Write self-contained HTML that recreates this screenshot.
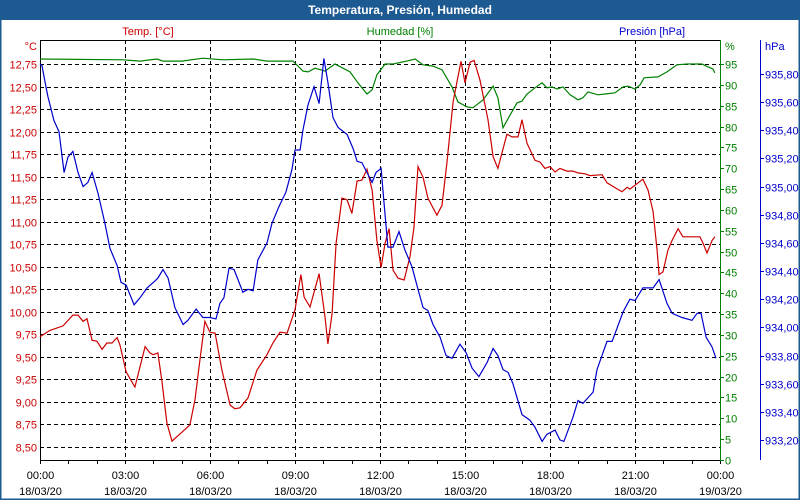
<!DOCTYPE html>
<html><head><meta charset="utf-8"><style>
body{margin:0;background:#fff;}
#wrap{position:relative;width:800px;height:500px;overflow:hidden;font-family:"Liberation Sans",sans-serif;}
</style></head><body>
<div id="wrap">
<svg id="chart" width="800" height="500" xmlns="http://www.w3.org/2000/svg" font-family="Liberation Sans, sans-serif" font-size="11">
<rect x="0" y="0" width="800" height="500" fill="#ffffff" stroke="#1e5a92" stroke-width="3"/>
<rect x="0" y="0" width="800" height="20" fill="#1e5a92"/>
<text x="400" y="14" text-anchor="middle" fill="#fff" font-weight="bold" font-size="12">Temperatura, Presión, Humedad</text>
<g id="grid"></g>
<g id="axes"></g>
<g id="series"></g>
</svg>
</div>
<script>
const tempTimes=[0,0.35,0.81,1.16,1.34,1.52,1.66,1.84,2.01,2.19,2.36,2.54,2.72,2.82,3.04,3.35,3.71,3.88,3.99,4.16,4.31,4.48,4.66,4.94,5.29,5.47,5.61,5.82,6.00,6.18,6.42,6.71,6.88,7.06,7.34,7.66,8.01,8.22,8.47,8.72,9.00,9.21,9.32,9.53,9.85,10.06,10.16,10.31,10.45,10.66,10.84,11.01,11.19,11.36,11.54,11.72,11.89,12.04,12.18,12.32,12.46,12.64,12.85,13.06,13.20,13.34,13.52,13.69,14.01,14.19,14.36,14.58,14.86,15.00,15.18,15.32,15.53,15.81,15.99,16.16,16.48,16.66,16.87,17.01,17.19,17.47,17.65,17.82,18.00,18.18,18.35,18.60,18.81,18.99,19.24,19.41,19.84,20.01,20.22,20.54,20.72,20.82,21.07,21.28,21.46,21.64,21.78,21.85,21.99,22.16,22.31,22.52,22.69,23.29,23.40,23.54,23.72,23.82];
const tempValues=[9.72,9.79,9.84,9.96,9.96,9.89,9.92,9.68,9.67,9.58,9.65,9.65,9.71,9.63,9.33,9.16,9.61,9.54,9.52,9.54,9.21,8.76,8.56,8.64,8.74,9.02,9.38,9.89,9.77,9.76,9.35,8.96,8.92,8.93,9.04,9.35,9.52,9.65,9.77,9.76,10.02,10.41,10.16,10.05,10.42,9.94,9.64,9.98,10.76,11.26,11.24,11.09,11.45,11.46,11.58,11.35,10.79,10.49,10.76,10.92,10.46,10.37,10.35,10.61,10.94,11.61,11.49,11.26,11.07,11.18,11.65,12.33,12.78,12.54,12.77,12.79,12.57,12.13,11.72,11.59,11.97,11.94,11.94,12.13,11.87,11.68,11.66,11.59,11.61,11.55,11.59,11.56,11.56,11.54,11.53,11.51,11.52,11.43,11.39,11.33,11.38,11.36,11.42,11.47,11.35,11.11,10.68,10.41,10.44,10.68,10.79,10.92,10.83,10.83,10.76,10.65,10.79,10.83];
const presTimes=[0,0.07,0.18,0.28,0.49,0.67,0.85,0.99,1.16,1.34,1.52,1.69,1.84,2.05,2.29,2.47,2.72,2.86,3.04,3.32,3.53,3.78,4.06,4.16,4.34,4.52,4.76,5.05,5.22,5.51,5.75,6.00,6.21,6.35,6.49,6.67,6.85,7.16,7.34,7.52,7.69,8.01,8.19,8.44,8.68,8.89,9.00,9.18,9.28,9.46,9.67,9.85,10.02,10.16,10.34,10.52,10.84,11.05,11.19,11.36,11.54,11.72,11.86,12.04,12.11,12.28,12.46,12.67,12.88,13.13,13.34,13.52,13.69,13.87,14.12,14.33,14.54,14.82,15.04,15.25,15.49,15.78,15.99,16.16,16.34,16.52,16.69,17.01,17.29,17.47,17.72,17.89,18.18,18.35,18.49,18.81,18.99,19.16,19.52,19.66,20.01,20.19,20.58,20.82,21.00,21.28,21.64,21.85,22.13,22.31,22.66,23.01,23.19,23.33,23.51,23.72,23.86];
const presValues=[935.87,935.86,935.74,935.64,935.47,935.39,935.10,935.21,935.25,935.10,935.00,935.03,935.10,934.95,934.74,934.56,934.44,934.32,934.30,934.16,934.21,934.28,934.33,934.35,934.41,934.35,934.14,934.02,934.05,934.13,934.07,934.07,934.06,934.17,934.21,934.42,934.41,934.25,934.27,934.26,934.48,934.60,934.74,934.86,934.96,935.12,935.26,935.26,935.40,935.58,935.71,935.59,935.91,935.74,935.49,935.42,935.37,935.27,935.18,935.17,935.10,935.03,935.10,935.13,934.96,934.57,934.57,934.68,934.55,934.43,934.27,934.14,934.12,934.02,933.93,933.80,933.78,933.88,933.82,933.71,933.65,933.75,933.85,933.80,933.70,933.68,933.60,933.38,933.34,933.29,933.19,933.24,933.27,933.20,933.19,933.36,933.48,933.46,933.54,933.70,933.90,933.90,934.11,934.20,934.19,934.28,934.28,934.34,934.17,934.10,934.07,934.05,934.10,934.10,933.93,933.86,933.78];
const humTimes=[0,2.93,3.53,4.13,4.34,5.01,5.75,6.46,7.52,8.01,8.93,9.28,9.46,9.71,10.06,10.41,10.94,11.22,11.54,11.72,11.89,12.18,12.46,12.95,13.24,13.52,13.87,14.19,14.54,14.75,15.07,15.28,15.64,15.99,16.16,16.34,16.59,16.84,17.01,17.19,17.47,17.72,17.89,18.07,18.25,18.46,18.71,18.99,19.16,19.34,19.69,19.94,20.29,20.58,20.75,21.00,21.18,21.32,21.81,22.13,22.48,22.84,23.36,23.58,23.75,23.82];
const humValues=[96.2,96.0,95.7,96.2,95.7,95.7,96.4,96.0,96.2,95.7,95.7,93.3,93.1,94.0,93.3,95.0,93.1,90.5,87.8,88.8,92.4,95.0,95.0,95.7,96.2,94.8,94.5,93.6,89.5,85.9,84.7,84.5,86.4,89.7,86.9,79.7,82.8,85.7,86.1,87.8,89.3,90.5,89.3,89.5,89.0,89.5,87.6,86.4,86.9,88.3,87.6,87.8,88.1,89.5,89.7,89.0,90.0,91.7,91.9,93.1,94.8,95.0,95.0,94.3,93.8,92.9];
const tempTicks=["12,75","12,50","12,25","12,00","11,75","11,50","11,25","11,00","10,75","10,50","10,25","10,00","9,75","9,50","9,25","9,00","8,75","8,50"];
const humTicks=[0,5,10,15,20,25,30,35,40,45,50,55,60,65,70,75,80,85,90,95];
const presTicks=["935,80","935,60","935,40","935,20","935,00","934,80","934,60","934,40","934,20","934,00","933,80","933,60","933,40","933,20"];
const timeLabels=["00:00","03:00","06:00","09:00","12:00","15:00","18:00","21:00","00:00"];
const dateLabels=["18/03/20","18/03/20","18/03/20","18/03/20","18/03/20","18/03/20","18/03/20","18/03/20","19/03/20"];

const L=40,R=720,T=40,B=460;
const xS=h=>L+h*(R-L)/24;
const yT=v=>64+(12.75-v)*90;
const yH=v=>460-v*396/95;
const yP=v=>74+(935.80-v)*140.75;
const NS="http://www.w3.org/2000/svg";
function mk(parent,tag,attrs,text){const e=document.createElementNS(NS,tag);for(const k in attrs)e.setAttribute(k,attrs[k]);if(text!==undefined)e.textContent=text;parent.appendChild(e);return e;}
const grid=document.getElementById('grid'),axes=document.getElementById('axes'),series=document.getElementById('series');

mk(grid,'rect',{x:L,y:T,width:R-L,height:B-T,fill:'#fff'});
tempTicks.forEach(s=>{const v=parseFloat(s.replace(',','.'));const y=Math.round(yT(v))+0.5;
 const g=mk(grid,'line',{x1:L,x2:R,y1:y,y2:y,stroke:'#000','stroke-dasharray':'4,3'});
 
 
 const t=mk(axes,'text',{x:37,y:y+4,'text-anchor':'end',fill:'#cc0000'},s);
 
 
});
timeLabels.forEach((s,i)=>{const x=Math.round(xS(i*3))+0.5;
 if(i>0&&i<8){const g=mk(grid,'line',{x1:x,x2:x,y1:T,y2:B,stroke:'#000','stroke-dasharray':'4,3'});
 
 }
 const t=mk(axes,'text',{x:x,y:479,'text-anchor':'middle',fill:'#000'},s);
 
 
 const d=mk(axes,'text',{x:x,y:495,'text-anchor':'middle',fill:'#000'},dateLabels[i]);
 
 
});
for(let h=0;h<=24;h++){const x=Math.round(xS(h))+0.5;mk(axes,'line',{x1:x,x2:x,y1:B,y2:B+4,stroke:'#000'});}
humTicks.forEach(v=>{const y=Math.round(yH(v))+0.5;
 mk(axes,'line',{x1:R,x2:R+4,y1:y,y2:y,stroke:'#008000'});
 const t=mk(axes,'text',{x:725,y:y+4,fill:'#008000'},String(v));
 
 
});
presTicks.forEach(s=>{const v=parseFloat(s.replace(',','.'));const y=Math.round(yP(v))+0.5;
 mk(axes,'line',{x1:760,x2:764,y1:y,y2:y,stroke:'#0000cc'});
 const t=mk(axes,'text',{x:765,y:y+4,fill:'#0000cc'},s);
 
 
});
mk(axes,'line',{x1:L+0.5,x2:L+0.5,y1:T,y2:B+0.5,stroke:'#000'});
mk(axes,'line',{x1:L,x2:R,y1:T+0.5,y2:T+0.5,stroke:'#000'});
mk(axes,'line',{x1:L,x2:R,y1:B+0.5,y2:B+0.5,stroke:'#000'});
mk(axes,'line',{x1:R+0.5,x2:R+0.5,y1:T,y2:B+1,stroke:'#008000'});
mk(axes,'line',{x1:760.5,x2:760.5,y1:T,y2:B,stroke:'#0000cc'});
const lab=[[37,50,'end','#cc0000','°C','temp-unit'],[148,35,'middle','#cc0000','Temp. [°C]','temp-legend'],[400,35,'middle','#008000','Humedad [%]','humidity-legend'],[652,35,'middle','#0000cc','Presión [hPa]','pressure-legend'],[725,50,'start','#008000','%','humidity-unit'],[765,50,'start','#0000cc','hPa','pressure-unit']];
lab.forEach(a=>{const t=mk(axes,'text',{x:a[0],y:a[1],'text-anchor':a[2],fill:a[3]},a[4]);
 
 });

function line(times,vals,yf,color,name){const d=times.map((t,i)=>(i?'L':'M')+xS(t).toFixed(1)+','+yf(vals[i]).toFixed(1)).join('');
 const p=mk(series,'path',{d:d,fill:'none',stroke:color,'stroke-width':1.2});
 
 }
line(humTimes,humValues,yH,'#008000','humidity-line');
line(tempTimes,tempValues,yT,'#cc0000','temperature-line');
line(presTimes,presValues,yP,'#0000cc','pressure-line');
</script>
</body></html>
